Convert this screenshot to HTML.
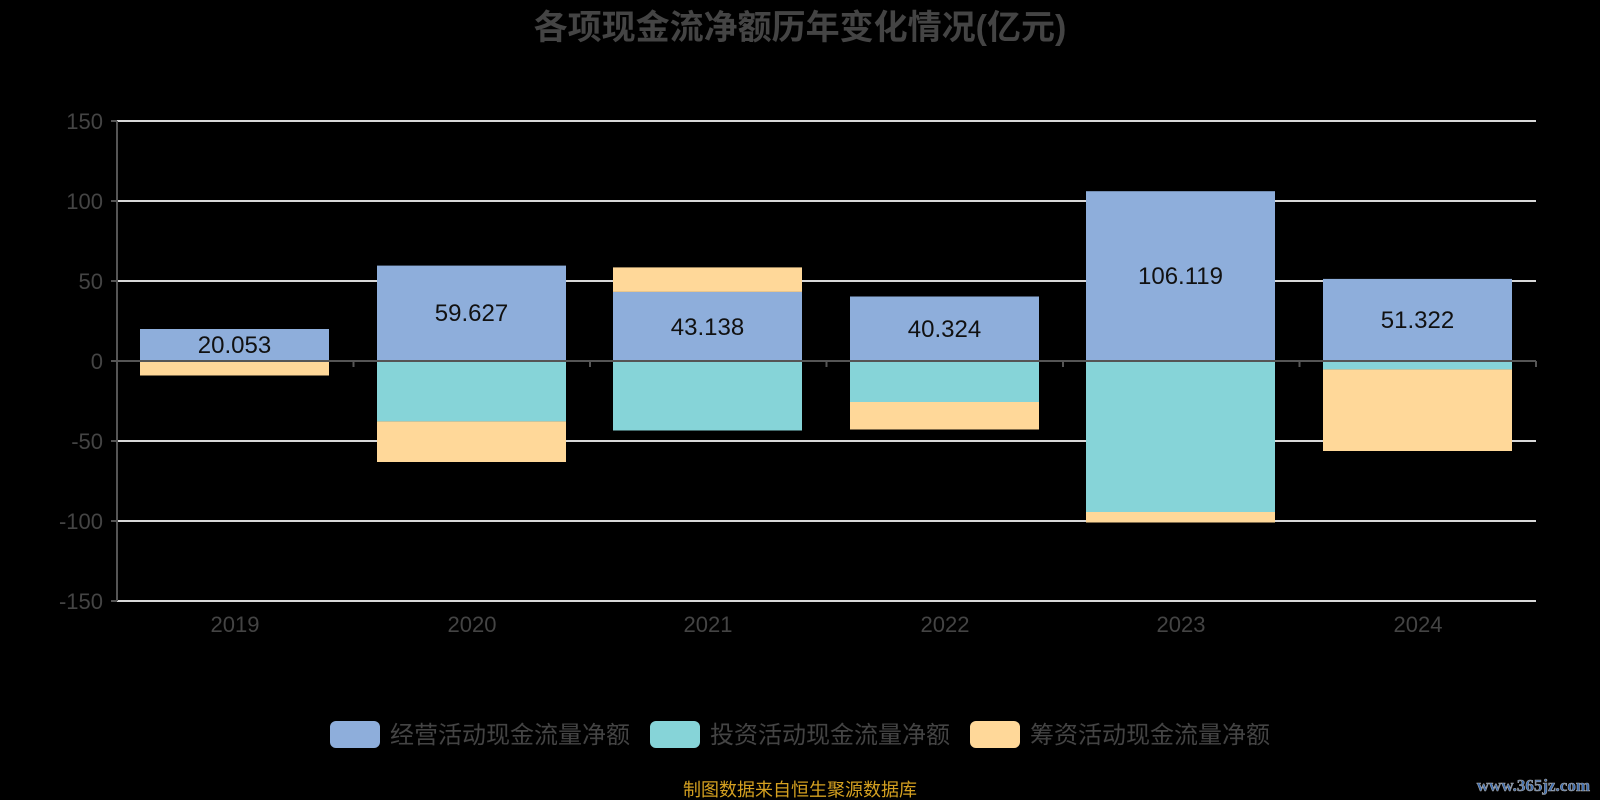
<!DOCTYPE html>
<html><head><meta charset="utf-8"><style>
body{margin:0;background:#000;}
svg{display:block;font-family:"Liberation Sans","Noto Sans CJK SC",sans-serif;}
</style></head><body>
<svg width="1600" height="800" viewBox="0 0 1600 800">
<rect width="1600" height="800" fill="#000"/>
<text x="800" y="39" text-anchor="middle" font-size="34" font-weight="bold" fill="#444">各项现金流净额历年变化情况(亿元)</text>
<g stroke="#d8d8d8" stroke-width="2">
<line x1="117" y1="121" x2="1536" y2="121"/>
<line x1="117" y1="201" x2="1536" y2="201"/>
<line x1="117" y1="281" x2="1536" y2="281"/>
<line x1="117" y1="441" x2="1536" y2="441"/>
<line x1="117" y1="521" x2="1536" y2="521"/>
<line x1="117" y1="601" x2="1536" y2="601"/>
</g>
<g font-size="22" fill="#444" text-anchor="end">
<text x="103" y="129">150</text><text x="103" y="209">100</text><text x="103" y="289">50</text>
<text x="103" y="369">0</text><text x="103" y="449">-50</text><text x="103" y="529">-100</text><text x="103" y="609">-150</text>
</g>
<g stroke="#555" stroke-width="2">
<line x1="117" y1="121" x2="117" y2="601"/>
<line x1="111" y1="121" x2="117" y2="121"/><line x1="111" y1="201" x2="117" y2="201"/><line x1="111" y1="281" x2="117" y2="281"/><line x1="111" y1="361" x2="117" y2="361"/><line x1="111" y1="441" x2="117" y2="441"/><line x1="111" y1="521" x2="117" y2="521"/><line x1="111" y1="601" x2="117" y2="601"/>
</g>
<g>
<rect x="140" y="329" width="189" height="32" fill="#8eaedb"/>
<rect x="140" y="361" width="189" height="1" fill="#86d4d8"/>
<rect x="140" y="362" width="189" height="13.5" fill="#ffd899"/>
<rect x="377" y="265.6" width="189" height="95.4" fill="#8eaedb"/>
<rect x="377" y="361" width="189" height="60.4" fill="#86d4d8"/>
<rect x="377" y="421.4" width="189" height="40.6" fill="#ffd899"/>
<rect x="613" y="291.9" width="189" height="69.1" fill="#8eaedb"/>
<rect x="613" y="267.4" width="189" height="24.5" fill="#ffd899"/>
<rect x="613" y="361" width="189" height="69.5" fill="#86d4d8"/>
<rect x="850" y="296.5" width="189" height="64.5" fill="#8eaedb"/>
<rect x="850" y="361" width="189" height="41" fill="#86d4d8"/>
<rect x="850" y="402" width="189" height="27.5" fill="#ffd899"/>
<rect x="1086" y="191.2" width="189" height="169.8" fill="#8eaedb"/>
<rect x="1086" y="361" width="189" height="151" fill="#86d4d8"/>
<rect x="1086" y="512" width="189" height="10.5" fill="#ffd899"/>
<rect x="1323" y="278.9" width="189" height="82.1" fill="#8eaedb"/>
<rect x="1323" y="361" width="189" height="8.4" fill="#86d4d8"/>
<rect x="1323" y="369.4" width="189" height="81.6" fill="#ffd899"/>
</g>
<g stroke="#555" stroke-width="2">
<line x1="117" y1="361" x2="1536" y2="361"/>
<line x1="117" y1="361" x2="117" y2="367"/><line x1="353.5" y1="361" x2="353.5" y2="367"/><line x1="590" y1="361" x2="590" y2="367"/><line x1="826.5" y1="361" x2="826.5" y2="367"/><line x1="1063" y1="361" x2="1063" y2="367"/><line x1="1299.5" y1="361" x2="1299.5" y2="367"/><line x1="1536" y1="361" x2="1536" y2="367"/>
</g>
<g font-size="24" fill="#111" text-anchor="middle">
<text x="234.5" y="353">20.053</text>
<text x="471.5" y="321">59.627</text>
<text x="707.5" y="335">43.138</text>
<text x="944.5" y="337">40.324</text>
<text x="1180.5" y="284">106.119</text>
<text x="1417.5" y="328">51.322</text>
</g>
<g font-size="22" fill="#444" text-anchor="middle">
<text x="235" y="632">2019</text><text x="472" y="632">2020</text><text x="708" y="632">2021</text>
<text x="945" y="632">2022</text><text x="1181" y="632">2023</text><text x="1418" y="632">2024</text>
</g>
<g font-size="24" fill="#444">
<rect x="330" y="721" width="50" height="27" rx="6" fill="#8eaedb"/>
<text x="390" y="743">经营活动现金流量净额</text>
<rect x="650" y="721" width="50" height="27" rx="6" fill="#86d4d8"/>
<text x="710" y="743">投资活动现金流量净额</text>
<rect x="970" y="721" width="50" height="27" rx="6" fill="#ffd899"/>
<text x="1030" y="743">筹资活动现金流量净额</text>
</g>
<text x="800" y="796" text-anchor="middle" font-size="18" fill="#d4a020">制图数据来自恒生聚源数据库</text>
<text x="1590" y="791" text-anchor="end" font-size="17" font-weight="bold" fill="#3a6bb0" stroke="#aaa" stroke-width="0.6" font-family="Liberation Serif,serif">www.365jz.com</text>
</svg>
</body></html>
